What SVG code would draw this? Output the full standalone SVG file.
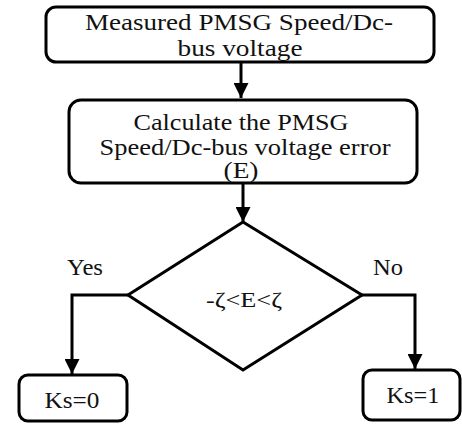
<svg xmlns="http://www.w3.org/2000/svg" width="462" height="425" viewBox="0 0 462 425">
<style>
.box{fill:#fff;stroke:#000;stroke-width:3}
.t{font-family:"Liberation Serif",serif;font-size:23px;fill:#111;text-anchor:middle}
.c{fill:none;stroke:#000;stroke-width:3}
</style>
<defs>
<marker id="ah" viewBox="0 0 10 10" refX="10" refY="5" markerWidth="5" markerHeight="5" markerUnits="strokeWidth" orient="auto">
<path d="M0,0 L10,5 L0,10 z" fill="#000"/>
</marker>
</defs>
<rect width="462" height="425" fill="#fff"/>
<g id="connectors">
<line class="c" x1="241" y1="63" x2="241" y2="98" marker-end="url(#ah)"/>
<line class="c" x1="243" y1="183" x2="243" y2="222" marker-end="url(#ah)"/>
<polyline class="c" points="128,295 72,295 72,374" marker-end="url(#ah)"/>
<polyline class="c" points="362,295 415,295 415,369" marker-end="url(#ah)"/>
</g>
<g id="measured">
<rect class="box" x="46" y="7" width="388" height="55" rx="10"/>
<text class="t" x="239" y="30" textLength="308" lengthAdjust="spacingAndGlyphs">Measured PMSG Speed/Dc-</text>
<text class="t" x="240" y="56" textLength="125" lengthAdjust="spacingAndGlyphs">bus voltage</text>
</g>
<g id="calculate">
<rect class="box" x="69" y="100" width="348" height="83" rx="12"/>
<text class="t" x="241" y="130" textLength="215" lengthAdjust="spacingAndGlyphs">Calculate the PMSG</text>
<text class="t" x="245" y="155" textLength="291" lengthAdjust="spacingAndGlyphs">Speed/Dc-bus voltage error</text>
<text class="t" x="241" y="178" textLength="35" lengthAdjust="spacingAndGlyphs">(E)</text>
</g>
<g id="decision">
<polygon class="box" points="243,222 362,295 243,370 128,295"/>
<text class="t" x="244" y="307" style="font-size:22px" textLength="76" lengthAdjust="spacingAndGlyphs">-ζ&lt;E&lt;ζ</text>
</g>
<g id="labels">
<text class="t" x="85" y="275" textLength="36" lengthAdjust="spacingAndGlyphs">Yes</text>
<text class="t" x="388" y="275" textLength="30" lengthAdjust="spacingAndGlyphs">No</text>
</g>
<g id="ks0">
<rect class="box" x="19" y="375" width="108" height="46" rx="9"/>
<text class="t" x="72" y="408" textLength="55" lengthAdjust="spacingAndGlyphs">Ks=0</text>
</g>
<g id="ks1">
<rect class="box" x="363" y="370" width="97" height="50" rx="9"/>
<text class="t" x="413" y="403" textLength="53" lengthAdjust="spacingAndGlyphs">Ks=1</text>
</g>
</svg>
